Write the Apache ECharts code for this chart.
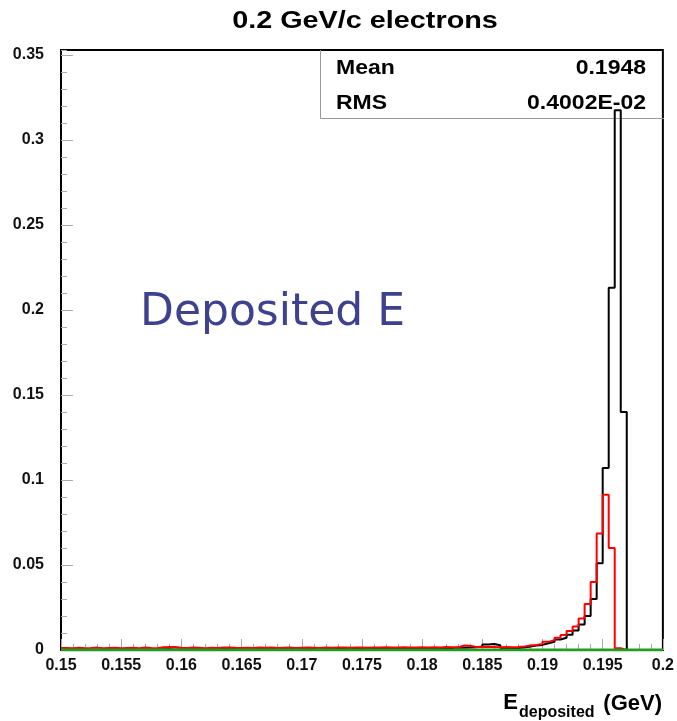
<!DOCTYPE html>
<html>
<head>
<meta charset="utf-8">
<script src="https://cdn.jsdelivr.net/npm/echarts@6/dist/echarts.min.js"></script>
<style>html,body{margin:0;padding:0;background:#fff}#c{width:677px;height:721px}</style>
</head>
<body>
<div id="c"></div>
<script>
// Histogram binning: 100 bins of 0.0005 GeV from 0.15 to 0.2
const binStart = 0.15;
const binWidth = 0.0005;

const xTicks = ['0.15','0.155','0.16','0.165','0.17','0.175','0.18','0.185','0.19','0.195','0.2'];
const yTicks = ['0','0.05','0.1','0.15','0.2','0.25','0.3','0.35'];

// black histogram
const blackVals = [
  0.0002,0.0003,0.0002,0.0004,0.0003,0.0002,0.0003,0.0004,0.0003,0.0002,
  0.0003,0.0004,0.0005,0.0003,0.0004,0.0003,0.0005,0.0004,0.0003,0.0005,
  0.0004,0.0005,0.0004,0.0006,0.0005,0.0004,0.0006,0.0005,0.0006,0.0004,
  0.0005,0.0006,0.0007,0.0005,0.0006,0.0007,0.0006,0.0005,0.0007,0.0008,
  0.0006,0.0007,0.0008,0.0006,0.0007,0.0009,0.0008,0.0007,0.0009,0.0008,
  0.0007,0.0009,0.0010,0.0008,0.0009,0.0011,0.0010,0.0009,0.0012,0.0011,
  0.0010,0.0012,0.0011,0.0013,0.0012,0.0014,0.0013,0.0015,0.0016,0.0020,
  0.0032,0.0035,0.0028,0.0012,0.0010,0.0012,0.0014,0.0020,0.0026,0.0030,
  0.0040,0.0048,0.0062,0.0072,0.0090,0.0115,0.0150,0.0200,0.0300,0.0510,
  0.1070,0.2130,0.3175,0.1400,0,0,0,0,0,0
];

// red histogram
const redVals = [
  0.0012,0.0010,0.0013,0.0011,0.0012,0.0014,0.0010,0.0012,0.0013,0.0011,
  0.0012,0.0013,0.0011,0.0014,0.0012,0.0011,0.0016,0.0018,0.0017,0.0013,
  0.0012,0.0014,0.0013,0.0011,0.0013,0.0012,0.0014,0.0015,0.0013,0.0012,
  0.0013,0.0012,0.0014,0.0013,0.0015,0.0012,0.0013,0.0014,0.0012,0.0013,
  0.0014,0.0013,0.0012,0.0014,0.0013,0.0015,0.0014,0.0013,0.0015,0.0014,
  0.0013,0.0015,0.0014,0.0016,0.0015,0.0014,0.0016,0.0015,0.0014,0.0016,
  0.0015,0.0016,0.0015,0.0017,0.0016,0.0015,0.0026,0.0025,0.0018,0.0017,
  0.0018,0.0017,0.0016,0.0017,0.0016,0.0018,0.0021,0.0026,0.0030,0.0036,
  0.0048,0.0058,0.0072,0.0088,0.0112,0.0138,0.0185,0.0270,0.0400,0.0685,
  0.0913,0.0600,0.0010,0,0,0,0,0,0,0
];

// green histogram (all empty)
const greenVals = new Array(100).fill(0);

const statLabels = ['Mean', 'RMS'];
const statValues = ['0.1948', '0.4002E-02'];

function histData(vals) {
  const d = vals.map((v, i) => [binStart + i * binWidth, v]);
  d.push([binStart + vals.length * binWidth, vals[vals.length - 1]]);
  return d;
}

const FONT = '"Liberation Sans", Arial, Helvetica, sans-serif';
const chart = echarts.init(document.getElementById('c'), null, {renderer: 'canvas'});

const yMax = 0.3529;

chart.setOption({
  animation: false,
  backgroundColor: '#fff',
  grid: {
    left: 61, right: 13, top: 50, bottom: 71,
    show: true, borderColor: '#000', borderWidth: 2, backgroundColor: 'transparent'
  },
  xAxis: {
    type: 'value', min: 0.15, max: 0.2, interval: 0.005,
    axisLine: {show: false},
    splitLine: {show: false},
    axisTick: {show: true, inside: true, length: 11, lineStyle: {color: '#aaa', width: 1}},
    minorTick: {show: true, splitNumber: 5, length: 6, lineStyle: {color: '#aaa', width: 1}},
    axisLabel: {
      margin: 8, fontFamily: FONT, fontWeight: 'bold', fontSize: 16, color: '#111',
      showMinLabel: true, showMaxLabel: true,
      formatter: function (v) {
        const s = String(+v.toFixed(4));
        return xTicks.indexOf(s) >= 0 ? s : '';
      }
    }
  },
  yAxis: [{
    type: 'value', min: 0, max: yMax, interval: 0.05, position: 'left', offset: 0,
    axisLine: {show: false},
    splitLine: {show: false},
    axisTick: {show: true, inside: true, length: 12, lineStyle: {color: '#aaa', width: 1}},
    axisLabel: {
      margin: 17, fontFamily: FONT, fontWeight: 'bold', fontSize: 16, color: '#111',
      showMaxLabel: false,
      formatter: function (v) {
        const s = String(+v.toFixed(4));
        return yTicks.indexOf(s) >= 0 ? s : '';
      }
    }
  }, {
    type: 'value', min: 0, max: yMax, interval: 0.01, position: 'left', offset: 0,
    axisLine: {show: false},
    splitLine: {show: false},
    axisTick: {show: true, inside: true, length: 6, lineStyle: {color: '#aaa', width: 1}},
    axisLabel: {show: false}
  }],
  series: [{
    type: 'line', step: 'end', data: histData(blackVals), showSymbol: false, symbol: 'none',
    lineStyle: {color: '#000', width: 2}, z: 3, silent: true
  }, {
    type: 'line', step: 'end', data: histData(redVals), showSymbol: false, symbol: 'none',
    lineStyle: {color: '#ff0000', width: 2}, z: 4, silent: true
  }, {
    type: 'line', step: 'end', data: histData(greenVals), showSymbol: false, symbol: 'none',
    lineStyle: {color: '#1e9e1e', width: 3}, z: 5, silent: true
  }],
  graphic: [
    {type: 'text', x: 365, y: 21, scaleX: 1.2, z: 0,
     style: {text: '0.2 GeV/c electrons', fill: '#000', font: 'bold 24px ' + FONT, textAlign: 'center', textVerticalAlign: 'middle'}},
    {type: 'polyline', z: 0, shape: {points: [[320.5, 50], [320.5, 118.5], [664, 118.5]]},
     style: {stroke: '#999', lineWidth: 1, fill: null}},
    {type: 'text', x: 336, y: 68, scaleX: 1.15, z: 0,
     style: {text: statLabels[0], fill: '#000', font: 'bold 20px ' + FONT, textAlign: 'left', textVerticalAlign: 'middle'}},
    {type: 'text', x: 646, y: 68, scaleX: 1.15, z: 0,
     style: {text: statValues[0], fill: '#000', font: 'bold 20px ' + FONT, textAlign: 'right', textVerticalAlign: 'middle'}},
    {type: 'text', x: 336, y: 103, scaleX: 1.15, z: 0,
     style: {text: statLabels[1], fill: '#000', font: 'bold 20px ' + FONT, textAlign: 'left', textVerticalAlign: 'middle'}},
    {type: 'text', x: 646, y: 103, scaleX: 1.15, z: 0,
     style: {text: statValues[1], fill: '#000', font: 'bold 20px ' + FONT, textAlign: 'right', textVerticalAlign: 'middle'}},
    {type: 'text', x: 140, y: 314, z: 0,
     style: {text: 'Deposited E', fill: '#3d4190', font: '44px "DejaVu Sans", sans-serif', textAlign: 'left', textVerticalAlign: 'middle'}},
    {type: 'text', x: 518, y: 703, z: 0,
     style: {text: 'E', fill: '#000', font: 'bold 22px ' + FONT, textAlign: 'right', textVerticalAlign: 'middle'}},
    {type: 'text', x: 519, y: 713, z: 0,
     style: {text: 'deposited', fill: '#000', font: 'bold 16px ' + FONT, textAlign: 'left', textVerticalAlign: 'middle'}},
    {type: 'text', x: 662, y: 704, z: 0,
     style: {text: '(GeV)', fill: '#000', font: 'bold 22px ' + FONT, textAlign: 'right', textVerticalAlign: 'middle'}}
  ]
});
</script>
</body>
</html>
